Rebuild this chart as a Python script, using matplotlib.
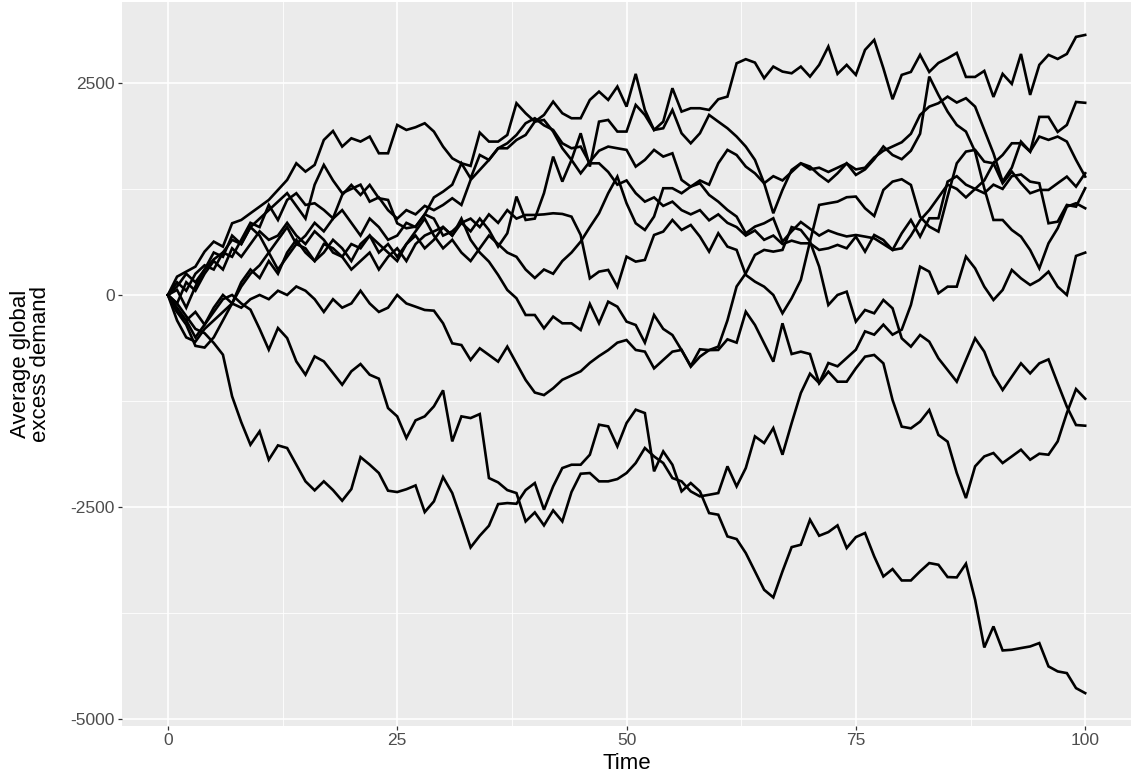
import matplotlib.pyplot as plt
from matplotlib.ticker import MultipleLocator

# time axis shared by every run
time_steps = list(range(101))

# average global excess demand, one list per simulation run (t = 0..100)
run_a = [0, 216, 275, 334, 511, 629, 570, 845, 884, 963,
         1041, 1120, 1238, 1356, 1552, 1454, 1533, 1827, 1933, 1749,
         1847, 1808, 1867, 1670, 1670, 2004, 1945, 1977, 2024, 1926,
         1749, 1611, 1552, 1521, 1914, 1808, 1808, 1886, 2260, 2142,
         2043, 2122, 2279, 2142, 2083, 2083, 2299, 2397, 2299, 2456,
         2220, 2606, 2181, 1945, 2043, 2437, 2161, 2201, 2201, 2181,
         2307, 2338, 2731, 2779, 2739, 2555, 2692, 2633, 2613, 2692,
         2574, 2712, 2928, 2606, 2712, 2594, 2889, 3006, 2672, 2307,
         2594, 2629, 2830, 2629, 2735, 2790, 2853, 2570, 2570, 2641,
         2334, 2606, 2488, 2841, 2358, 2712, 2830, 2782, 2841, 3042,
         3065]

run_b = [0, 60, -150, 100, 300, 420, 500, 450, 650, 850,
         800, 1061, 884, 1120, 1199, 1061, 1081, 1002, 904, 1179,
         1297, 1179, 1297, 1140, 1120, 845, 786, 806, 950, 1150,
         1218, 1300, 1552, 1375, 1650, 1592, 1729, 1729, 1827, 1886,
         2043, 2063, 1926, 1729, 1592, 1434, 1572, 1700, 1749, 1729,
         1710, 1513, 1592, 1710, 1631, 1670, 1356, 1277, 1350, 1300,
         1552, 1710, 1650, 1513, 1434, 1317, 1400, 1350, 1450, 1550,
         1480, 1500, 1450, 1500, 1550, 1480, 1500, 1620, 1700, 1750,
         1800, 1900, 2122, 2220, 2260, 2338, 2268, 2319, 2220, 1945,
         1670, 1336, 1500, 1808, 1690, 2099, 2099, 1922, 2004, 2275,
         2265]

run_c = [0, 100, 250, 150, 300, 500, 450, 700, 600, 800,
         700, 500, 650, 800, 600, 700, 850, 750, 900, 1000,
         850, 700, 900, 800, 650, 700, 850, 800, 950, 900,
         700, 750, 850, 900, 800, 950, 850, 1000, 900, 943,
         943, 950, 963, 955, 923, 707, 196, 275, 295, 98,
         452, 393, 413, 707, 747, 884, 766, 825, 688, 511,
         727, 570, 531, 236, 157, 98, 0, -216, -39, 177,
         629, 1061, 1081, 1100, 1152, 1160, 1022, 931, 1238, 1336,
         1364, 1297, 924, 806, 747, 1160, 1552, 1690, 1710, 1572,
         1552, 1650, 1788, 1788, 1690, 1867, 1828, 1867, 1808, 1592,
         1395]

run_d = [0, -200, -350, -600, -620, -500, -300, -100, 100, 250,
         350, 500, 300, 450, 600, 550, 400, 500, 650, 550,
         400, 600, 700, 600, 500, 400, 600, 750, 900, 700,
         550, 650, 500, 400, 550, 700, 600, 500, 450, 300,
         200, 300, 250, 400, 500, 629, 800, 963, 1199, 1395,
         1081, 845, 766, 924, 1258, 1258, 1199, 1277, 1317, 1179,
         1100, 1002, 924, 727, 806, 845, 904, 629, 750, 860,
         780, 700, 760, 720, 690, 707, 688, 668, 600, 531,
         727, 884, 688, 904, 904, 1336, 1400, 1300, 1250, 1350,
         1552, 1317, 1454, 1317, 1199, 1238, 1238, 1317, 1395, 1277,
         1435]

run_e = [0, 150, 50, 250, 350, 300, 500, 650, 600, 800,
         900, 1000, 1100, 1200, 1050, 900, 1300, 1533, 1350, 1200,
         1250, 1300, 1100, 1150, 1000, 900, 1000, 950, 1050, 1000,
         1061, 1140, 1061, 1356, 1474, 1592, 1729, 1788, 1886, 2024,
         2083, 2000, 1945, 1788, 1729, 1749, 1552, 1552, 1450, 1300,
         1350, 1200, 1100, 1150, 1050, 1100, 1000, 950, 1000, 880,
         950, 850, 800, 700, 760, 650, 700, 600, 640, 609,
         609, 531, 550, 590, 550, 688, 511, 707, 648, 531,
         550, 700, 880, 1000, 1150, 1300, 1250, 1150, 1250, 1200,
         1300, 1250, 1400, 1420, 1336, 1317, 845, 864, 1061, 1041,
         1258]

run_f = [0, -100, 150, 50, 250, 400, 300, 550, 450, 600,
         750, 650, 700, 850, 700, 600, 750, 650, 500, 450,
         600, 550, 700, 500, 600, 450, 600, 700, 550, 650,
         800, 700, 850, 750, 900, 766, 570, 727, 1160, 884,
         900, 1200, 1631, 1336, 1592, 1906, 1513, 2043, 2063, 1926,
         1926, 2240, 2122, 1945, 1965, 2181, 1906, 1788, 1906, 2122,
         2043, 1965, 1867, 1749, 1592, 1317, 963, 1238, 1474, 1552,
         1513, 1415, 1336, 1434, 1552, 1415, 1480, 1600, 1750, 1650,
         1600, 1700, 1900, 2574, 2358, 2161, 2004, 1926, 1690, 1258,
         884, 884, 766, 688, 530, 314, 609, 786, 1041, 1081,
         1022]

run_g = [0, -150, -300, -200, -350, -200, -50, 0, -100, -173,
         -400, -645, -390, -508, -783, -940, -724, -783, -920, -1058,
         -900, -814, -940, -987, -1333, -1431, -1686, -1478, -1431, -1313,
         -1124, -1726, -1431, -1451, -1404, -2158, -2209, -2300, -2335, -2669,
         -2563, -2716, -2539, -2669, -2323, -2107, -2099, -2197, -2197, -2170,
         -2099, -1981, -1804, -1903, -1981, -2158, -2197, -2315, -2374, -2355,
         -2335, -2020, -2256, -2040, -1667, -1745, -1569, -1883, -1510, -1156,
         -928, -1038, -802, -841, -743, -645, -429, -468, -350, -468,
         -409, -118, 334, 275, 20, 98, 98, 452, 314, 98,
         -59, 59, 295, 196, 118, 177, 275, 98, 0, 460,
         499]

run_h = [0, -200, -300, -500, -350, -150, 0, -100, 150, 300,
         200, 400, 250, 500, 650, 500, 400, 600, 550, 450,
         300, 400, 500, 300, 450, 550, 400, 600, 700, 750,
         800, 700, 900, 650, 500, 393, 236, 59, -39, -236,
         -236, -393, -255, -334, -334, -413, -106, -334, -79, -138,
         -314, -354, -562, -236, -400, -472, -650, -837, -640, -650,
         -648, -523, -562, -197, -354, -570, -786, -334, -696, -668,
         -696, -1041, -904, -1022, -1022, -865, -727, -707, -806, -1238,
         -1552, -1572, -1493, -1356, -1650, -1729, -2099, -2394, -2020, -1903,
         -1863, -1981, -1903, -1824, -1942, -1871, -1883, -1726, -1392, -1109,
         -1223]

run_i = [0, -300, -500, -550, -400, -300, -200, -100, -150, -50,
         0, -50, 50, 0, 100, 50, -50, -200, -50, -150,
         -100, 50, -100, -200, -150, 0, -100, -138, -177, -185,
         -334, -570, -590, -766, -629, -707, -786, -609, -806, -1002,
         -1150, -1180, -1100, -1000, -950, -900, -800, -720, -650, -562,
         -531, -648, -668, -865, -766, -668, -648, -845, -727, -650,
         -609, -300, 100, 255, 472, 531, 511, 531, 800, 766,
         629, 334, -118, 0, 39, -314, -177, -216, -59, -157,
         -511, -609, -472, -550, -747, -884, -1022, -767, -511, -668,
         -943, -1120, -963, -806, -924, -806, -759, -1041, -1316, -1533,
         -1541]

run_j = [0, -100, -250, -400, -450, -566, -704, -1195, -1500, -1765,
         -1608, -1942, -1773, -1804, -2000, -2197, -2303, -2197, -2300, -2425,
         -2288, -1911, -2000, -2099, -2307, -2323, -2290, -2245, -2559, -2433,
         -2146, -2335, -2650, -2976, -2838, -2720, -2465, -2453, -2461, -2300,
         -2217, -2531, -2256, -2040, -2001, -2001, -1883, -1529, -1549, -1785,
         -1510, -1352, -1392, -2079, -1844, -2001, -2315, -2217, -2315, -2571,
         -2590, -2846, -2877, -3042, -3258, -3475, -3565, -3258, -2972, -2944,
         -2649, -2838, -2795, -2716, -2983, -2854, -2806, -3082, -3318, -3231,
         -3365, -3365, -3258, -3160, -3180, -3325, -3329, -3168, -3593, -4155,
         -3907, -4190, -4182, -4162, -4143, -4103, -4378, -4437, -4457, -4634,
         -4693]

runs = [run_a, run_b, run_c, run_d, run_e, run_f, run_g, run_h, run_i, run_j]

x_ticks = [0, 25, 50, 75, 100]
y_ticks = [-5000, -2500, 0, 2500]

plt.rcParams['font.family'] = ['Liberation Sans', 'DejaVu Sans']

fig = plt.figure(figsize=(11.34, 7.79), dpi=100)
ax = fig.add_axes([0.1076, 0.068, 0.8898, 0.9294])

# grey ggplot-like panel with white grid
ax.set_facecolor('#EBEBEB')
for side in ax.spines.values():
    side.set_visible(False)
ax.set_axisbelow(True)
ax.xaxis.set_minor_locator(MultipleLocator(12.5))
ax.yaxis.set_minor_locator(MultipleLocator(1250))
ax.grid(which='major', color='white', linewidth=1.2)
ax.grid(which='minor', color='white', linewidth=0.6)

for run in runs:
    ax.plot(time_steps[:len(run)], run, color='black', linewidth=1.9,
            solid_joinstyle='miter')

# 5% padding on both axes, like ggplot's default expansion
lo = min(min(r) for r in runs)
hi = max(max(r) for r in runs)
pad = 0.05 * (hi - lo)
ax.set_ylim(lo - pad, hi + pad)
ax.set_xlim(-5, 105)

ax.set_xticks(x_ticks)
ax.set_yticks(y_ticks)
ax.set_yticklabels([str(v) for v in y_ticks])
ax.tick_params(which='major', length=2.8, width=0.9, color='#333333',
               labelcolor='#4D4D4D', labelsize=12.5, pad=2.5)
ax.tick_params(which='minor', length=0)

ax.set_xlabel('Time', fontsize=16, labelpad=3)
ax.set_ylabel('Average global\nexcess demand', fontsize=16, labelpad=14,
              linespacing=0.9)

fig.savefig('out.png', dpi=100)
